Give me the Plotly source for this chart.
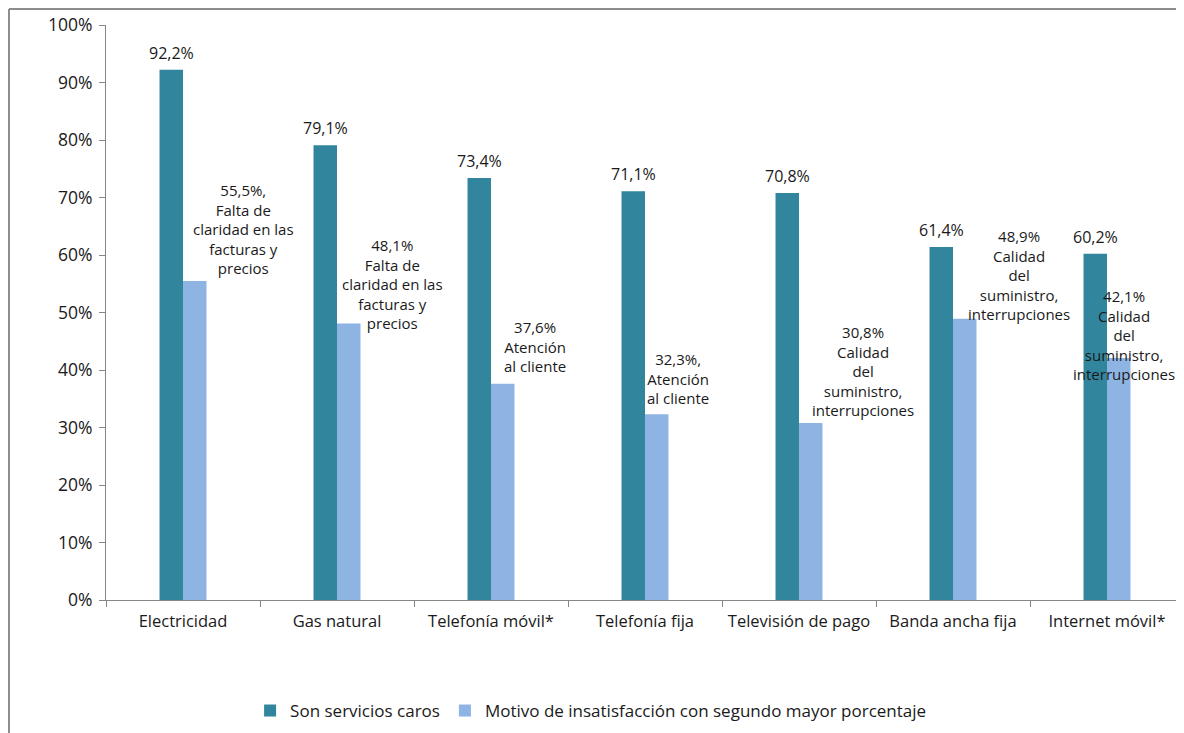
import plotly.graph_objects as go

categories = ["Electricidad", "Gas natural", "Telefonía móvil*", "Telefonía fija",
              "Televisión de pago", "Banda ancha fija", "Internet móvil*"]
caros = [92.2, 79.1, 73.4, 71.1, 70.8, 61.4, 60.2]
segundo = [55.5, 48.1, 37.6, 32.3, 30.8, 48.9, 42.1]
caros_labels = ["92,2%", "79,1%", "73,4%", "71,1%", "70,8%", "61,4%", "60,2%"]
segundo_labels = [
    "55,5%,<br>Falta de<br>claridad en las<br>facturas y<br>precios",
    "48,1%<br>Falta de<br>claridad en las<br>facturas y<br>precios",
    "37,6%<br>Atención<br>al cliente",
    "32,3%,<br>Atención<br>al cliente",
    "30,8%<br>Calidad<br>del<br>suministro,<br>interrupciones",
    "48,9%<br>Calidad<br>del<br>suministro,<br>interrupciones",
    "42,1%<br>Calidad<br>del<br>suministro,<br>interrupciones",
]
series_names = ["Son servicios caros", "Motivo de insatisfacción con segundo mayor porcentaje"]
y_ticks = [0, 10, 20, 30, 40, 50, 60, 70, 80, 90, 100]

# label placement offsets (pixels)
seg_xshift = [60, 55, 44, 33, 64, 66, 17]
seg_yshift = [52, 39, 37, 36, 52, 44, 23]

DARK = "#31859C"
LIGHT = "#8EB4E3"
FONT = "Open Sans"
TXT = "#1a1a1a"

fig = go.Figure()
fig.add_trace(go.Bar(x=categories, y=caros, name=series_names[0], marker_color=DARK,
                     marker_line_width=0))
fig.add_trace(go.Bar(x=categories, y=segundo, name=series_names[1], marker_color=LIGHT,
                     marker_line_width=0))

annotations = []
for i, c in enumerate(categories):
    annotations.append(dict(x=c, y=caros[i], xref="x", yref="y", text=caros_labels[i],
                            showarrow=False, xshift=-11.75, yshift=17, yanchor="middle",
                            font=dict(family=FONT, size=16, color=TXT)))
    annotations.append(dict(x=c, y=segundo[i], xref="x", yref="y", text=segundo_labels[i],
                            showarrow=False, xshift=seg_xshift[i], yshift=seg_yshift[i],
                            yanchor="middle", align="center",
                            font=dict(family=FONT, size=15, color=TXT)))

fig.update_layout(
    width=1176, height=725,
    margin=dict(l=98, r=0, t=17, b=133, autoexpand=False),
    plot_bgcolor="white", paper_bgcolor="white",
    barmode="group", bargap=0.695, bargroupgap=0,
    font=dict(family=FONT, size=16, color=TXT),
    showlegend=True,
    legend=dict(orientation="h", x=0.45, xanchor="center", y=-0.193, yanchor="middle",
                font=dict(family=FONT, size=17, color=TXT), itemwidth=30,
                traceorder="normal"),
    annotations=annotations,
    shapes=[
        dict(type="line", xref="paper", yref="paper", x0=-0.09, x1=1.02, y0=1.0278, y1=1.0278,
             line=dict(color="#8c8c8c", width=2)),
        dict(type="line", xref="paper", yref="paper", x0=-0.09, x1=-0.09, y0=1.0278, y1=-0.25,
             line=dict(color="#8c8c8c", width=2)),
    ],
)
fig.update_xaxes(showline=True, linecolor="#868686", linewidth=1, ticks="outside",
                 tickson="boundaries", ticklen=6, tickcolor="#868686",
                 ticklabelstandoff=6, tickangle=0, automargin=False,
                 tickfont=dict(family=FONT, size=16.5, color=TXT), showgrid=False)
fig.update_yaxes(range=[0, 100], tickvals=y_ticks, ticktext=[f"{v}%" for v in y_ticks],
                 showline=True, linecolor="#868686", linewidth=1, ticks="outside",
                 ticklen=6, tickcolor="#868686", showgrid=False, zeroline=False,
                 ticklabelstandoff=3, automargin=False,
                 tickfont=dict(family=FONT, size=17.5, color=TXT))

fig.write_html("out.html")
